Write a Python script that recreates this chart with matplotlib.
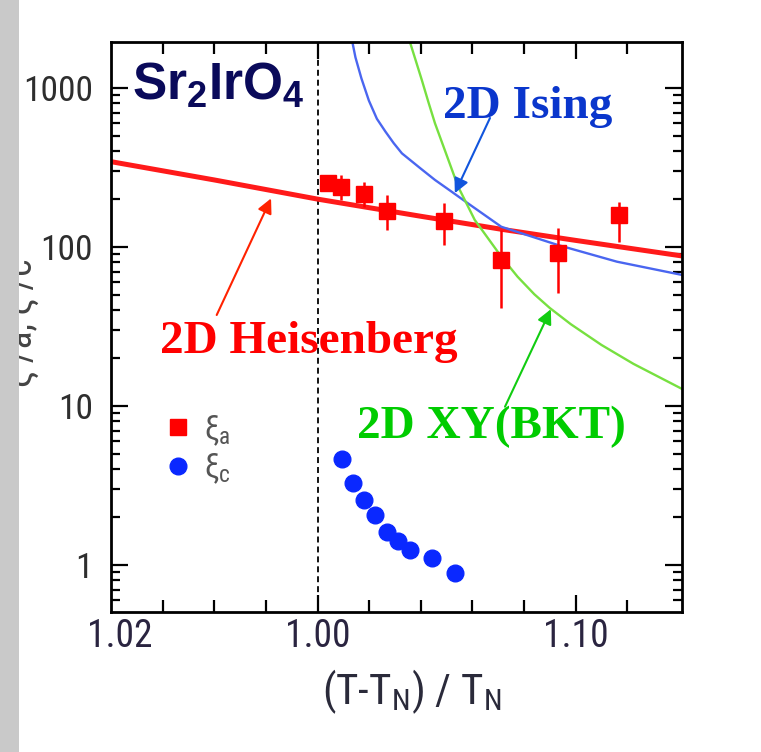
import matplotlib
matplotlib.use('Agg')
import matplotlib.pyplot as plt
from matplotlib.patches import Rectangle
from matplotlib.ticker import FixedLocator, FixedFormatter, LogLocator, NullFormatter

# ---------------- data ----------------
xi_a_x = [0.0041, 0.0092, 0.0180, 0.0269, 0.0491, 0.0709, 0.0930, 0.1169]
xi_a_y = [254, 237, 215, 169, 146, 82.4, 91.4, 158]
xi_a_lo = [240, 198, 179, 128, 103, 41.3, 51.4, 107]
xi_a_hi = [268, 284, 256, 212, 189, 128, 132, 192]

xi_c_x = [0.0094, 0.0137, 0.0181, 0.0224, 0.0269, 0.0313, 0.0357, 0.0445, 0.0532]
xi_c_y = [4.62, 3.29, 2.55, 2.05, 1.61, 1.42, 1.24, 1.10, 0.895]

heis_x = [-0.08, -0.04, 0.0, 0.04, 0.0715, 0.10, 0.1412]
heis_y = [344, 264, 200, 156, 129, 110, 87.8]

ising_x = [0.0125, 0.0135, 0.0147, 0.0170, 0.0199, 0.0230, 0.0263, 0.0295, 0.0327,
           0.0400, 0.0455, 0.0519, 0.0583, 0.0712, 0.0930, 0.1160, 0.1412]
ising_y = [2300, 1946, 1557, 1150, 833, 640, 532, 450, 388,
           311, 264, 223, 188, 134, 103, 80.8, 66.7]

xy_x = [0.0350, 0.0358, 0.0381, 0.0404, 0.0430, 0.0455, 0.0500, 0.0545, 0.0609,
        0.0712, 0.0775, 0.0840, 0.0900, 0.0981, 0.1100, 0.1224, 0.1412]
xy_y = [2300, 1946, 1479, 1123, 811, 600, 379, 239, 148,
        86.9, 65.0, 50.4, 41.3, 32.7, 24.2, 18.4, 12.8]

x_major = [-0.0765, 0.0, 0.10]
x_major_labels = ['1.02', '1.00', '1.10']
x_minor = [-0.06, -0.04, -0.02, 0.02, 0.04, 0.06, 0.08, 0.12]
y_major = [1, 10, 100, 1000]
y_major_labels = ['1', '10', '100', '1000']

# ---------------- style ----------------
COND = ['Roboto Condensed', 'Liberation Sans Narrow', 'Liberation Sans', 'DejaVu Sans']
SERIF = ['Liberation Serif', 'DejaVu Serif']
plt.rcParams['font.family'] = COND
plt.rcParams['mathtext.fontset'] = 'custom'
plt.rcParams['mathtext.rm'] = 'Roboto Condensed'
plt.rcParams['mathtext.it'] = 'Roboto Condensed:italic'
plt.rcParams['mathtext.bf'] = 'Liberation Sans:bold'

fig = plt.figure(figsize=(7.61, 7.52), dpi=100)
fig.patch.set_facecolor('white')
ax = fig.add_axes([111/761, 1-612/752, (682-111)/761, (612-42)/752])

ax.set_yscale('log')
ax.set_xlim(-0.08, 0.1412)
ax.set_ylim(0.506, 1946)

# dashed T_N line
ax.axvline(0.0, ymax=0.98, color='black', lw=1.3, ls=(0, (3.3, 2.2)), zorder=1)

# model curves
ax.plot(heis_x, heis_y, color='#ff1a1a', lw=3.6, solid_capstyle='butt', zorder=2)
ax.plot(ising_x, ising_y, color='#4a66f0', lw=1.7, zorder=2)
ax.plot(xy_x, xy_y, color='#77e040', lw=1.7, zorder=2)

# data
yerr = [[v - l for v, l in zip(xi_a_y, xi_a_lo)], [h - v for v, h in zip(xi_a_y, xi_a_hi)]]
ax.errorbar(xi_a_x, xi_a_y, yerr=yerr, fmt='none', ecolor='#ff0000', elinewidth=1.8, capsize=0, zorder=3)
h_a, = ax.plot(xi_a_x, xi_a_y, ls='none', marker='s', ms=11.5, color='#ff0000', mec='#ff0000', zorder=4)
h_c, = ax.plot(xi_c_x, xi_c_y, ls='none', marker='o', ms=12, color='#0a28ff', mec='#0a28ff', zorder=4)

# axes formatting
for s in ax.spines.values():
    s.set_linewidth(2.0)
ax.xaxis.set_major_locator(FixedLocator(x_major))
ax.xaxis.set_major_formatter(FixedFormatter(x_major_labels))
ax.xaxis.set_minor_locator(FixedLocator(x_minor))
ax.yaxis.set_major_locator(FixedLocator(y_major))
ax.yaxis.set_major_formatter(FixedFormatter(y_major_labels))
ax.yaxis.set_minor_locator(LogLocator(base=10, subs=range(2, 10)))
ax.yaxis.set_minor_formatter(NullFormatter())
ax.tick_params(which='both', direction='in', top=True, right=True, width=1.6, color='black')
ax.tick_params(axis='x', which='major', length=12.5, pad=4, labelsize=27, labelcolor='#2a2440')
ax.tick_params(axis='x', which='minor', length=8.5)
ax.tick_params(axis='y', which='major', length=12.5, pad=13, labelsize=25.5, labelcolor='#2e2e2e')
ax.tick_params(axis='y', which='minor', length=6.5)
t0 = ax.xaxis.get_major_ticks()[0]
t0.tick1line.set_visible(False)
t0.tick2line.set_visible(False)

ax.set_xlabel(r'(T-T$_\mathrm{N}$) / T$_\mathrm{N}$', fontsize=31, color='#2a2a3a')
ax.xaxis.set_label_coords((412 - 111) / 571, -0.098)
ax.set_ylabel('ξ /a, ξ /c', fontsize=27, color='#444444')
ax.yaxis.set_label_coords(-0.1245, 0.507)

# legend
leg = ax.legend([h_a, h_c], [r'ξ$_\mathrm{a}$', r'ξ$_\mathrm{c}$'], loc='upper left',
                bbox_to_anchor=(0.0925, 0.349), frameon=False, fontsize=24,
                handlelength=0.85, handletextpad=0.35, borderpad=0, borderaxespad=0,
                labelspacing=0.12, labelcolor='#555555')

# annotations
ax.text((132 - 111) / 571, (612 - 100) / 570, r'$\mathbf{Sr_2IrO_4}$', transform=ax.transAxes,
        fontsize=37, color='#0a0a5a', va='baseline', ha='left', zorder=6)
ax.text((443 - 111) / 571, (612 - 118) / 570, '2D Ising', transform=ax.transAxes,
        family=SERIF, fontweight='bold', fontsize=34, color='#0a36cc', va='baseline', ha='left')
ax.text((160 - 111) / 571, (612 - 353) / 570, '2D Heisenberg', transform=ax.transAxes,
        family=SERIF, fontweight='bold', fontsize=34, color='#ff0000', va='baseline', ha='left')
ax.text((357 - 111) / 571, (612 - 438) / 570, '2D XY(BKT)', transform=ax.transAxes,
        family=SERIF, fontweight='bold', fontsize=34, color='#00cc00', va='baseline', ha='left')

arrow_kw = dict(arrowstyle='-|>', lw=1.5, mutation_scale=22, shrinkA=0, shrinkB=0)
ax.annotate('', xy=(-0.018, 202), xycoords='data',
            xytext=((216.7 - 111) / 571, (612 - 315) / 570), textcoords='axes fraction',
            arrowprops=dict(color='#ff2200', **arrow_kw))
ax.annotate('', xy=(0.0532, 218), xycoords='data',
            xytext=((490 - 111) / 571, (612 - 118) / 570), textcoords='axes fraction',
            arrowprops=dict(color='#1155dd', **arrow_kw))
ax.annotate('', xy=(0.0904, 40.6), xycoords='data',
            xytext=((505 - 111) / 571, (612 - 406.7) / 570), textcoords='axes fraction',
            arrowprops=dict(color='#11cc11', **arrow_kw))

# slide decoration: gray strip at the left edge
fig.add_artist(Rectangle((0, 0), 19 / 761, 1, transform=fig.transFigure,
                         facecolor='#c9c9c9', edgecolor='none', zorder=20))

fig.savefig('out.png', dpi=100)
